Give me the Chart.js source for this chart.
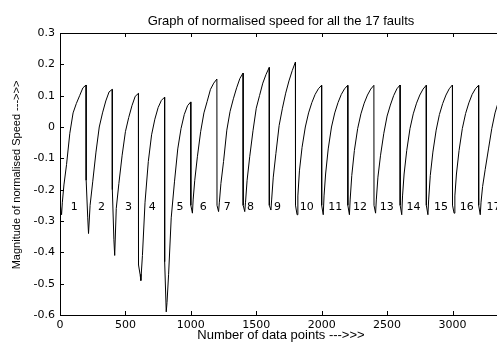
<!DOCTYPE html>
<html>
<head>
<meta charset="utf-8">
<script src="https://cdn.jsdelivr.net/npm/chart.js@4"></script>
<style>
  html, body { margin: 0; padding: 0; background: #fff; }
  canvas { display: block; }
</style>
</head>
<body>
<canvas id="speedChart" width="497" height="342"></canvas>
<script>
// each fault covers 200 data points
var faultLength = 200;
var faultNames = ["1", "2", "3", "4", "5", "6", "7", "8", "9", "10", "11", "12", "13", "14", "15", "16", "17"];

// sample positions inside one fault
var offsets = [0, 12, 18, 30, 50, 75, 100, 125, 150, 175, 199];
var speed = [
    [-0.24, -0.28, -0.24, -0.185, -0.12, -0.02, 0.045, 0.075, 0.1, 0.125, 0.134],
    [-0.17, -0.29, -0.34, -0.25, -0.175, -0.08, 0.0, 0.045, 0.083, 0.112, 0.12],
    [-0.2, -0.36, -0.41, -0.26, -0.18, -0.09, -0.015, 0.03, 0.068, 0.098, 0.107],
    [-0.44, -0.47, -0.49, -0.41, -0.24, -0.11, -0.025, 0.025, 0.062, 0.085, 0.095],
    [-0.43, -0.59, -0.56, -0.47, -0.29, -0.175, -0.07, -0.005, 0.04, 0.068, 0.08],
    [-0.25, -0.275, -0.23, -0.17, -0.095, -0.015, 0.045, 0.082, 0.12, 0.14, 0.153],
    [-0.25, -0.27, -0.24, -0.18, -0.11, -0.01, 0.05, 0.09, 0.125, 0.155, 0.172],
    [-0.25, -0.27, -0.24, -0.17, -0.095, -0.012, 0.06, 0.1, 0.14, 0.168, 0.19],
    [-0.25, -0.265, -0.23, -0.16, -0.085, 0.005, 0.06, 0.108, 0.147, 0.18, 0.207],
    [-0.25, -0.28, -0.22, -0.14, -0.065, 0.0, 0.045, 0.078, 0.104, 0.122, 0.133],
    [-0.25, -0.28, -0.22, -0.15, -0.07, 0.0, 0.045, 0.078, 0.104, 0.122, 0.133],
    [-0.25, -0.28, -0.23, -0.155, -0.075, -0.005, 0.042, 0.076, 0.102, 0.121, 0.133],
    [-0.25, -0.275, -0.23, -0.16, -0.09, -0.02, 0.035, 0.07, 0.1, 0.122, 0.134],
    [-0.25, -0.28, -0.22, -0.15, -0.075, -0.005, 0.042, 0.076, 0.102, 0.121, 0.133],
    [-0.25, -0.28, -0.23, -0.155, -0.08, -0.01, 0.04, 0.075, 0.102, 0.122, 0.134],
    [-0.25, -0.275, -0.22, -0.15, -0.075, -0.005, 0.043, 0.077, 0.104, 0.122, 0.133],
    [-0.25, -0.28, -0.24, -0.19, -0.135, -0.07, -0.005, 0.045, 0.08, 0.11, 0.13]
];

// where the fault numbers sit (x in data points, y in speed)
var labelX = [82, 291, 497, 678, 890, 1068, 1251, 1430, 1636, 1833, 2051, 2240, 2444, 2648, 2859, 3056, 3260];
var labelY = -0.256;

var xTicks = [0, 500, 1000, 1500, 2000, 2500, 3000];
var yTicks = [-0.6, -0.5, -0.4, -0.3, -0.2, -0.1, 0, 0.1, 0.2, 0.3];

var titleText = "Graph of normalised speed for all the 17 faults";
var xTitle = "Number of data points --->>>";
var yTitle = "Magnitude of normalised Speed --->>>";

var points = [];
speed.forEach(function(row, i) {
    row.forEach(function(v, j) {
        points.push({ x: i * faultLength + offsets[j], y: v });
    });
});

var fontName = "'DejaVu Sans', sans-serif";
var titleFont = "13px 'Liberation Sans', Arial, sans-serif";
var yTitleFont = "11px 'Liberation Sans', Arial, sans-serif";

var decorations = {
    id: "decorations",
    afterDraw: function(chart) {
        var ctx = chart.ctx;
        var a = chart.chartArea;
        var xs = chart.scales.x;
        var ys = chart.scales.y;
        ctx.save();
        ctx.strokeStyle = "#000";
        ctx.lineWidth = 1;
        ctx.beginPath();
        ctx.moveTo(a.left, a.top + 0.5);
        ctx.lineTo(a.right, a.top + 0.5);
        xTicks.forEach(function(v) {
            var px = Math.round(xs.getPixelForValue(v)) + 0.5;
            ctx.moveTo(px, a.bottom);
            ctx.lineTo(px, a.bottom - 4);
            ctx.moveTo(px, a.top);
            ctx.lineTo(px, a.top + 4);
        });
        yTicks.forEach(function(v) {
            var py = Math.round(ys.getPixelForValue(v)) + 0.5;
            ctx.moveTo(a.left, py);
            ctx.lineTo(a.left + 4, py);
        });
        ctx.stroke();

        ctx.fillStyle = "#000";
        ctx.font = "11px " + fontName;
        ctx.textAlign = "left";
        ctx.textBaseline = "middle";
        faultNames.forEach(function(name, i) {
            ctx.fillText(name, xs.getPixelForValue(labelX[i]), ys.getPixelForValue(labelY));
        });

        ctx.font = titleFont;
        ctx.textAlign = "center";
        ctx.fillText(titleText, 281, 21);
        ctx.fillText(xTitle, 281, 335);
        ctx.font = yTitleFont;
        ctx.translate(17, 175);
        ctx.rotate(-Math.PI / 2);
        ctx.fillText(yTitle, 0, 0);
        ctx.restore();
    }
};

function tickLabel(v) {
    var r = Math.round(v * 10) / 10;
    return r === 0 ? "0" : String(r);
}

new Chart(document.getElementById("speedChart").getContext("2d"), {
    type: "line",
    data: {
        datasets: [{
            data: points,
            borderColor: "#000",
            borderWidth: 1,
            pointRadius: 0,
            tension: 0,
            fill: false
        }]
    },
    options: {
        responsive: false,
        animation: false,
        layout: { padding: { top: 33, left: 0, right: 0, bottom: 0 } },
        plugins: { legend: { display: false }, tooltip: { enabled: false } },
        scales: {
            x: {
                type: "linear",
                min: 0,
                max: 3340,
                grid: { drawOnChartArea: false, drawTicks: false },
                border: { color: "#000", width: 1 },
                afterBuildTicks: function(s) {
                    s.ticks = xTicks.map(function(v) { return { value: v }; });
                },
                ticks: {
                    autoSkip: false,
                    maxRotation: 0,
                    padding: 4,
                    color: "#000",
                    font: { family: fontName, size: 11 },
                    callback: function(v) { return String(v); }
                },
                afterFit: function(s) {
                    s.height = 27;
                    s.paddingLeft = 0;
                    s.paddingRight = 0;
                }
            },
            y: {
                min: -0.6,
                max: 0.3,
                grid: { drawOnChartArea: false, drawTicks: false },
                border: { color: "#000", width: 1 },
                afterBuildTicks: function(s) {
                    s.ticks = yTicks.map(function(v) { return { value: v }; });
                },
                ticks: {
                    autoSkip: false,
                    padding: 5,
                    color: "#000",
                    font: { family: fontName, size: 11 },
                    callback: tickLabel
                },
                afterFit: function(s) {
                    s.width = 60;
                }
            }
        }
    },
    plugins: [decorations]
});
</script>
</body>
</html>
